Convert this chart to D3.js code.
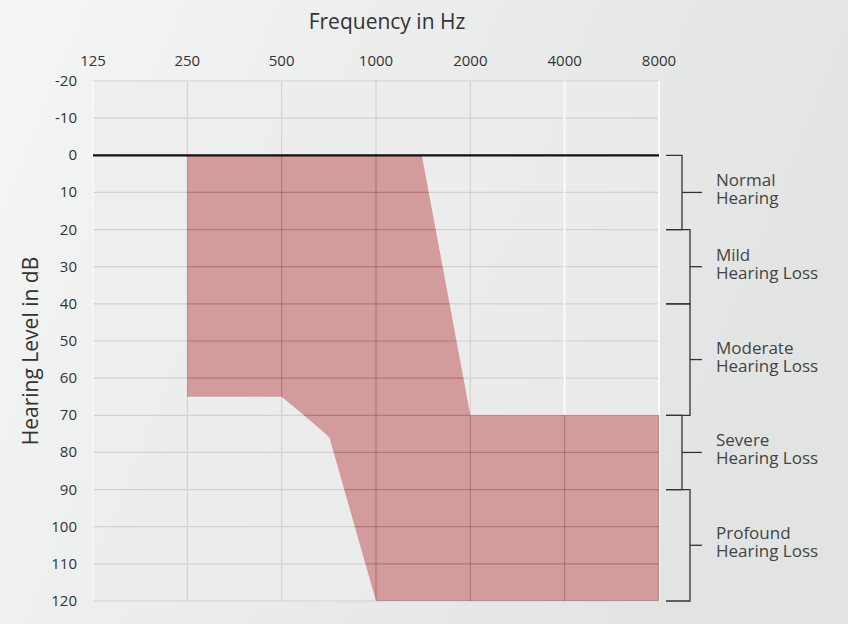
<!DOCTYPE html>
<html>
<head>
<meta charset="utf-8">
<script src="https://cdn.jsdelivr.net/npm/d3@7"></script>
<style>
  html, body { margin: 0; padding: 0; }
  body { width: 848px; height: 624px; overflow: hidden; }
  text { font-family: "Open Sans", "DejaVu Sans", sans-serif; }
</style>
</head>
<body>
<svg id="chart" width="848" height="624"></svg>
<script>
// tick values
const freqTicks = [125, 250, 500, 1000, 2000, 4000, 8000];
const levelTicks = [-20, -10, 0, 10, 20, 30, 40, 50, 60, 70, 80, 90, 100, 110, 120];

// outline of the shaded area (frequency in Hz, level in dB)
const areaFreq = [250, 1400, 2000, 8000, 8000, 1000, 710, 670, 570, 500, 250];
const areaLevel = [0, 0, 70, 70, 120, 120, 76, 74, 69, 65, 65];

// hearing loss categories
const catNames = [['Normal', 'Hearing'], ['Mild', 'Hearing Loss'], ['Moderate', 'Hearing Loss'],
  ['Severe', 'Hearing Loss'], ['Profound', 'Hearing Loss']];
const catFrom = [0, 20, 40, 70, 90];
const catTo = [20, 40, 70, 90, 120];

const svg = d3.select('#chart');

// background gradient
const defs = svg.append('defs');
const grad = defs.append('linearGradient').attr('id', 'bg')
  .attr('x1', '0%').attr('y1', '0%').attr('x2', '100%').attr('y2', '30%');
grad.append('stop').attr('offset', '0%').attr('stop-color', '#f4f5f5');
grad.append('stop').attr('offset', '100%').attr('stop-color', '#e2e3e3');
svg.append('rect').attr('width', 848).attr('height', 624).attr('fill', 'url(#bg)');

const x = d3.scaleLog().base(2).domain([125, 8000]).range([93, 659]);
const y = d3.scaleLinear().domain([-20, 120]).range([81, 601]);

// plot area
svg.append('rect')
  .attr('x', x(125)).attr('y', y(-20))
  .attr('width', x(8000) - x(125)).attr('height', y(120) - y(-20))
  .attr('fill', '#ececec').attr('opacity', 0.6);

const pts = areaFreq.map((f, i) => [x(f), y(areaLevel[i])]);
const areaPath = d3.line()(pts) + 'Z';

defs.append('clipPath').attr('id', 'areaClip').append('path').attr('d', areaPath);

function drawGrid(g, color, whiteHigh) {
  g.selectAll('.h').data(levelTicks).enter().append('line')
    .attr('x1', x(125)).attr('x2', x(8000))
    .attr('y1', d => y(d)).attr('y2', d => y(d))
    .attr('stroke', color).attr('stroke-width', 1.2);
  g.selectAll('.v').data(freqTicks).enter().append('line')
    .attr('x1', d => x(d)).attr('x2', d => x(d))
    .attr('y1', y(-20)).attr('y2', y(120))
    .attr('stroke', d => (whiteHigh && (d >= 4000 || d === 125)) ? '#fbfbfb' : color)
    .attr('stroke-width', d => (whiteHigh && d >= 4000) ? 2 : 1.2);
}

drawGrid(svg.append('g'), '#d2d2d2', true);

// shaded area
svg.append('path').attr('d', areaPath).attr('fill', '#d39b9b');

// gridlines over the shaded area
drawGrid(svg.append('g').attr('clip-path', 'url(#areaClip)'), 'rgba(90,30,30,0.28)', false);

// zero line
svg.append('line')
  .attr('x1', x(125)).attr('x2', x(8000))
  .attr('y1', y(0)).attr('y2', y(0))
  .attr('stroke', '#111').attr('stroke-width', 2.2);

// x tick labels
svg.append('g').selectAll('text').data(freqTicks).enter().append('text')
  .attr('x', d => x(d)).attr('y', 66)
  .attr('text-anchor', 'middle')
  .attr('font-size', 15).attr('fill', '#333')
  .text(d => d);

// y tick labels
svg.append('g').selectAll('text').data(levelTicks).enter().append('text')
  .attr('x', 77).attr('y', d => y(d) + 5)
  .attr('text-anchor', 'end')
  .attr('font-size', 15).attr('fill', '#333')
  .text(d => d);

// axis titles
svg.append('text').attr('x', 387).attr('y', 29)
  .attr('text-anchor', 'middle').attr('font-size', 21).attr('fill', '#333')
  .text('Frequency in Hz');
svg.append('text')
  .attr('transform', `translate(38, 351) rotate(-90)`)
  .attr('text-anchor', 'middle').attr('font-size', 21).attr('fill', '#333')
  .text('Hearing Level in dB');

// category brackets
const bracketX = [682, 690, 690, 682, 690];
const br = svg.append('g').attr('stroke', '#333').attr('stroke-width', 1.3).attr('fill', 'none');
catNames.forEach((name, i) => {
  const bx = bracketX[i];
  const y0 = y(catFrom[i]);
  const y1 = y(catTo[i]);
  const ym = (y0 + y1) / 2;
  br.append('path').attr('d', `M666,${y0}H${bx}V${y1}H666`);
  br.append('line').attr('x1', bx).attr('x2', 702).attr('y1', ym).attr('y2', ym);
  svg.append('text').attr('x', 716).attr('y', ym - 6)
    .attr('font-size', 17).attr('fill', '#444').text(name[0]);
  svg.append('text').attr('x', 716).attr('y', ym + 12)
    .attr('font-size', 17).attr('fill', '#444').text(name[1]);
});
</script>
</body>
</html>
